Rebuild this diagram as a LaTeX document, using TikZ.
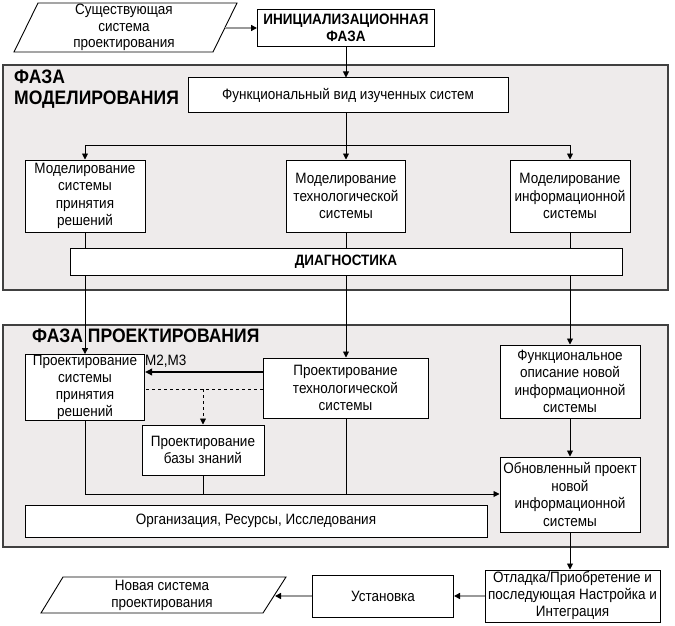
\documentclass[tikz,border=0pt]{standalone}
\usepackage{fontspec}
\setmainfont{Liberation Sans}[FakeStretch=0.9]
\usetikzlibrary{arrows.meta}
\definecolor{regfill}{RGB}{238,235,235}
\begin{document}
\begin{tikzpicture}[x=1pt,y=-1pt,
  box/.style={draw, line width=1pt, fill=white, align=center, inner sep=1pt, font=\fontsize{15}{17.5}\selectfont},
  arr/.style={-{Triangle[length=6pt,width=6pt]}, line width=0.9pt},
  ln/.style={line width=0.9pt},
  garr/.style={draw=black!40, line width=1.6pt, -{Triangle[length=6pt,width=6pt,color=black]}},
  region/.style={draw=black!75, line width=1.3pt, fill=regfill},
  phase/.style={font=\fontsize{19.5}{20.5}\selectfont\bfseries, align=left, inner sep=0pt}]
\useasboundingbox (0,0) rectangle (675,626);
% regions
\draw[region] (3,65) rectangle (668,290);
\draw[region] (3,325) rectangle (668,547);
\node[phase, anchor=north west] (lmod) at (14,70) {ФАЗА\\МОДЕЛИРОВАНИЯ};
\node[phase, anchor=north west] (lpro) at (32,329) {ФАЗА ПРОЕКТИРОВАНИЯ};
% top
\draw[line width=0.9pt, fill=white] (38,3) -- (237,3) -- (213,52) -- (14,52) -- cycle;
\node[align=center, font=\fontsize{15}{16.5}\selectfont] (p1) at (124,27.5) {Существующая\\система\\проектирования};
\coordinate (p1e) at (225,28);
\node[box, minimum width=177pt, minimum height=37pt, font=\fontsize{15}{17}\selectfont\bfseries] (init) at (346,28) {ИНИЦИАЛИЗАЦИОННАЯ\\ФАЗА};
\node[box, minimum width=320pt, minimum height=34pt] (func) at (348,95) {Функциональный вид изученных систем};
\node[box, minimum width=120pt, minimum height=72pt] (m1) at (85,196) {Моделирование\\системы\\принятия\\решений};
\node[box, minimum width=119pt, minimum height=72pt] (m2) at (346,196) {Моделирование\\технологической\\системы};
\node[box, minimum width=120pt, minimum height=72pt] (m3) at (570,196) {Моделирование\\информационной\\системы};
\node[box, minimum width=552pt, minimum height=27pt, font=\fontsize{15}{17}\selectfont\bfseries] (diag) at (346,261.5) {ДИАГНОСТИКА};
% design phase
\node[box, minimum width=119pt, minimum height=61pt, font=\fontsize{15}{16.8}\selectfont] (d1) at (85,387.5) {Проектирование\\системы\\принятия\\решений};
\node[box, minimum width=165pt, minimum height=60pt] (d2) at (345.5,388) {Проектирование\\технологической\\системы};
\node[box, minimum width=122pt, minimum height=50pt] (kb) at (203,450) {Проектирование\\базы знаний};
\node[box, minimum width=140pt, minimum height=73pt] (fd) at (570,381.5) {Функциональное\\описание новой\\информационной\\системы};
\node[box, minimum width=140pt, minimum height=75pt] (up) at (570,494.5) {Обновленный проект\\новой\\информационной\\системы};
\node[box, minimum width=462pt, minimum height=32pt] (org) at (256,521) {Организация, Ресурсы, Исследования};
% bottom
\node[box, minimum width=175pt, minimum height=52pt, font=\fontsize{15}{17}\selectfont] (dbg) at (572.5,596) {Отладка/Приобретение и\\последующая Настройка и\\Интеграция};
\node[box, minimum width=141pt, minimum height=42pt] (inst) at (383,596) {Установка};
\draw[line width=0.9pt, fill=white] (63,577) -- (286,577) -- (263,613) -- (41,613) -- cycle;
\node[align=center, font=\fontsize{15}{17}\selectfont] (p2) at (162,595) {Новая система\\проектирования};
\coordinate (p2e) at (275,596);
% connectors
\draw[garr] (p1e) -- (init.west);
\draw[arr] (init.south) -- (init.south |- func.north);
\coordinate (j) at (346,145);
\draw[ln] (j |- func.south) -- (j);
\draw[arr] (j) -- (m2.north);
\draw[arr] (j) -| (m1.north);
\draw[arr] (j) -| (m3.north);
\draw[ln] (m1.south) -- (m1.south |- diag.north);
\draw[ln] (m2.south) -- (m2.south |- diag.north);
\draw[ln] (m3.south) -- (m3.south |- diag.north);
\draw[arr] (d1.north |- diag.south) -- (d1.north);
\draw[arr] (m2.south |- diag.south) -- (m2.south |- d2.north);
\draw[arr] (fd.north |- diag.south) -- (fd.north);
\coordinate (yA) at (0,372);
\coordinate (yB) at (0,389);
\coordinate (yC) at (0,494);
\draw[-{Triangle[length=7pt,width=6.5pt]}, line width=2pt] (d2.west |- yA) -- (d1.east |- yA);
\node[anchor=south west, inner sep=1pt, font=\fontsize{15}{16}\selectfont] (lm) at (144,369) {M2,M3};
\draw[dashed, line width=0.9pt] (d2.west |- yB) -- (d1.east |- yB);
\draw[dashed, arr] (kb.north |- yB) -- (kb.north);
\draw[arr] (fd.south) -- (up.north);
\draw[ln] (d1.south) -- (d1.south |- yC);
\draw[ln] (kb.south) -- (kb.south |- yC);
\draw[ln] (m2.south |- d2.south) -- (m2.south |- yC);
\draw[arr] (d1.south |- yC) -- (up.west |- yC);
\draw[arr] (up.south) -- (up.south |- dbg.north);
\draw[garr] (dbg.west |- inst.east) -- (inst.east);
\draw[garr] (inst.west) -- (p2e);
\end{tikzpicture}
\end{document}
